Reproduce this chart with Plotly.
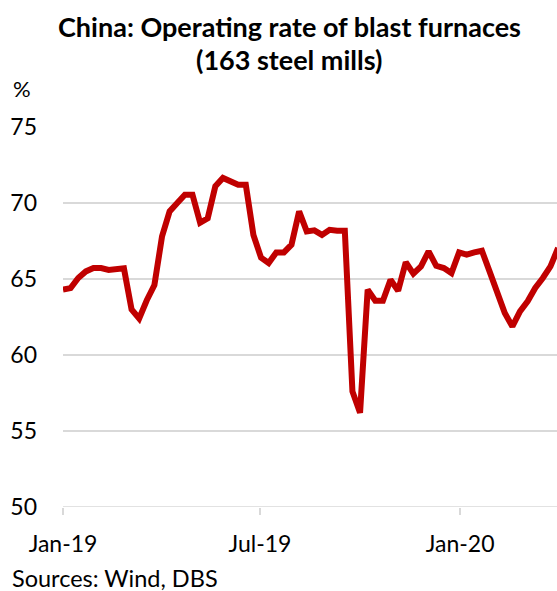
import pandas as pd
import plotly.graph_objects as go

# Weekly operating rate of blast furnaces, 163 steel mills (%)
weeks = pd.date_range("2019-01-01", periods=66, freq="7D")
rate = [
    64.3, 64.4, 65.07, 65.5, 65.72, 65.72, 65.6, 65.7, 65.7, 63.0,
    62.4, 63.6, 64.6, 67.8, 69.45, 70.0, 70.55, 70.55, 68.7, 69.0,
    71.1, 71.65, 71.4, 71.2, 71.2, 67.9, 66.4, 66.05, 66.75, 66.75,
    67.26, 69.45, 68.13, 68.2, 67.9, 68.24, 68.18, 68.18, 57.6, 56.2,
    64.3, 63.57, 63.57, 64.95, 64.23, 66.1, 65.35, 65.83, 66.82, 65.87,
    65.72, 65.39, 66.75, 66.6, 66.75, 66.86, 65.5, 64.18, 62.76, 61.88,
    62.87, 63.53, 64.41, 65.07, 65.83, 67.04,
]
tick_dates = ["2019-01-01", "2019-07-01", "2020-01-01"]
tick_text = ["Jan-19", "Jul-19", "Jan-20"]
y_ticks = [50, 55, 60, 65, 70, 75]

W, H = 557, 591
L, R, T, B = 62.5, 0, 127.3, 83.7
plot_h = H - T - B
FONT = "Lato"


def py(pixel_y):
    """Convert a pixel row to paper y."""
    return (H - B - pixel_y) / plot_h


def px(pixel_x):
    return (pixel_x - L) / (W - L - R)


fig = go.Figure()
fig.add_trace(go.Scatter(
    x=weeks, y=rate, mode="lines",
    line=dict(color="#C00000", width=6),
    hoverinfo="x+y",
))

fig.update_layout(
    width=W, height=H,
    margin=dict(l=L, r=R, t=T, b=B),
    paper_bgcolor="white", plot_bgcolor="white",
    showlegend=False,
    font=dict(family=FONT, color="#000000", size=23),
    xaxis=dict(
        range=["2019-01-01", "2020-03-30"],
        tickmode="array", tickvals=tick_dates, ticktext=tick_text,
        showgrid=False, zeroline=False,
        showline=False,
        ticks="outside", ticklen=7, tickwidth=1.6, tickcolor="#D9D9D9",
        ticklabelstandoff=9,
        tickfont=dict(size=23, family=FONT),
    ),
    yaxis=dict(
        range=[50, 75], tickmode="array", tickvals=y_ticks,
        showgrid=True, gridcolor="#D9D9D9", gridwidth=1.6,
        zeroline=False, showline=False, ticks="",
        ticklabelstandoff=25,
        tickfont=dict(size=23, family=FONT),
    ),
    annotations=[
        dict(text="<b>China: Operating rate of blast furnaces</b>",
             x=px(289), y=py(27), xref="paper", yref="paper",
             xanchor="center", yanchor="middle", showarrow=False,
             font=dict(size=27, family=FONT)),
        dict(text="<b>(163 steel mills)</b>",
             x=px(289), y=py(60), xref="paper", yref="paper",
             xanchor="center", yanchor="middle", showarrow=False,
             font=dict(size=27, family=FONT)),
        dict(text="%", x=px(10), y=py(88.5), xref="paper", yref="paper",
             xanchor="left", yanchor="middle", showarrow=False,
             font=dict(size=22, family=FONT)),
        dict(text="Sources: Wind, DBS", x=px(9), y=py(578),
             xref="paper", yref="paper", xanchor="left", yanchor="middle",
             showarrow=False, font=dict(size=23.5, family=FONT)),
    ],
)

# Horizontal base line at 50 across the plot
fig.add_shape(type="line", xref="paper", yref="y", x0=0, x1=1, y0=50, y1=50,
              line=dict(color="#D9D9D9", width=1.6), layer="below")

fig.write_html("out.html")
